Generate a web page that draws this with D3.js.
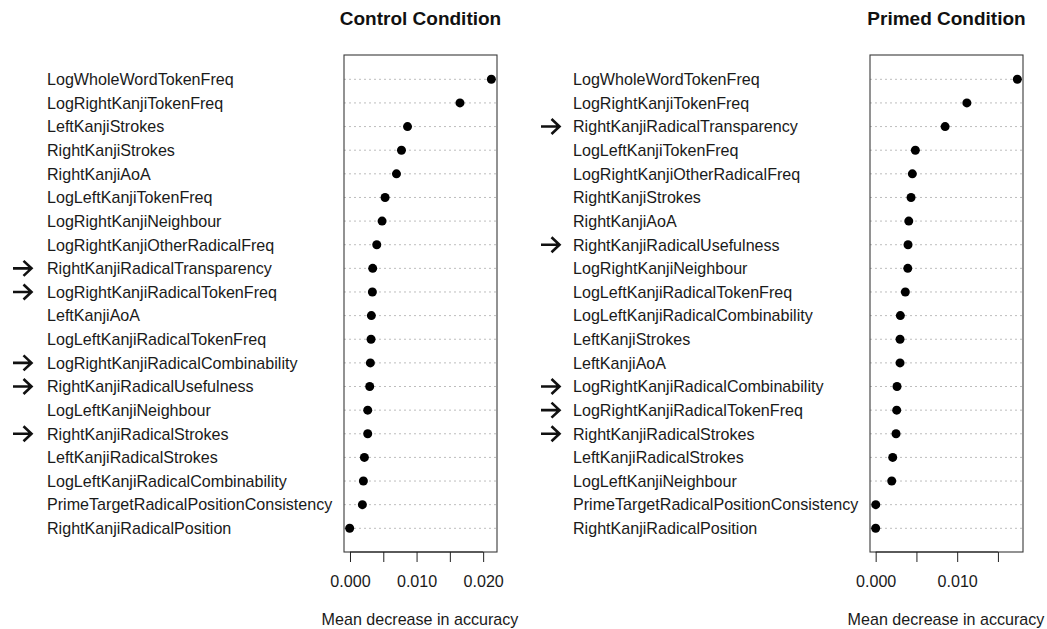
<html>
<head>
  <style>
  body {
    margin: 0;
    background: #fff;
    font-family: "Liberation Sans", Arial, sans-serif;
  }
  .grid line {
    stroke: #bdbdbd;
    stroke-dasharray: 2,3;
  }
  .label {
    font-size: 16.1px;
    fill: #1a1a1a;
  }
  .title {
    font-size: 19px;
    font-weight: bold;
    fill: #111;
  }
  </style>
</head>
<body>
<div id="chart"></div>
<script src="https://d3js.org/d3.v7.min.js"></script>
<script>

// Control condition
var controlNames = [
  "LogWholeWordTokenFreq", "LogRightKanjiTokenFreq", "LeftKanjiStrokes",
  "RightKanjiStrokes", "RightKanjiAoA", "LogLeftKanjiTokenFreq",
  "LogRightKanjiNeighbour", "LogRightKanjiOtherRadicalFreq",
  "RightKanjiRadicalTransparency", "LogRightKanjiRadicalTokenFreq",
  "LeftKanjiAoA", "LogLeftKanjiRadicalTokenFreq",
  "LogRightKanjiRadicalCombinability", "RightKanjiRadicalUsefulness",
  "LogLeftKanjiNeighbour", "RightKanjiRadicalStrokes",
  "LeftKanjiRadicalStrokes", "LogLeftKanjiRadicalCombinability",
  "PrimeTargetRadicalPositionConsistency", "RightKanjiRadicalPosition"
];
var controlValues = [
  0.02123, 0.01652, 0.00864, 0.00773, 0.00698, 0.00527, 0.00482, 0.00402,
  0.00341, 0.00336, 0.00321, 0.00316, 0.00306, 0.00296, 0.00266, 0.00266,
  0.00216, 0.00201, 0.00186, -0.00005
];
var controlArrows = [
  "RightKanjiRadicalTransparency", "LogRightKanjiRadicalTokenFreq",
  "LogRightKanjiRadicalCombinability", "RightKanjiRadicalUsefulness",
  "RightKanjiRadicalStrokes"
];
var controlTicks = [0, 0.005, 0.010, 0.015, 0.020];
var controlTickLabels = ["0.000", "", "0.010", "", "0.020"];

// Primed condition
var primedNames = [
  "LogWholeWordTokenFreq", "LogRightKanjiTokenFreq",
  "RightKanjiRadicalTransparency", "LogLeftKanjiTokenFreq",
  "LogRightKanjiOtherRadicalFreq", "RightKanjiStrokes", "RightKanjiAoA",
  "RightKanjiRadicalUsefulness", "LogRightKanjiNeighbour",
  "LogLeftKanjiRadicalTokenFreq", "LogLeftKanjiRadicalCombinability",
  "LeftKanjiStrokes", "LeftKanjiAoA", "LogRightKanjiRadicalCombinability",
  "LogRightKanjiRadicalTokenFreq", "RightKanjiRadicalStrokes",
  "LeftKanjiRadicalStrokes", "LogLeftKanjiNeighbour",
  "PrimeTargetRadicalPositionConsistency", "RightKanjiRadicalPosition"
];
var primedValues = [
  0.01738, 0.01119, 0.00852, 0.00487, 0.00450, 0.00434, 0.00406, 0.00397,
  0.00394, 0.00364, 0.00303, 0.00299, 0.00299, 0.00262, 0.00258, 0.00250,
  0.00209, 0.00197, 0.00001, 0.0
];
var primedArrows = [
  "RightKanjiRadicalTransparency", "RightKanjiRadicalUsefulness",
  "LogRightKanjiRadicalCombinability", "LogRightKanjiRadicalTokenFreq",
  "RightKanjiRadicalStrokes"
];
var primedTicks = [0, 0.005, 0.010, 0.015];
var primedTickLabels = ["0.000", "", "0.010", ""];

var W = 1047, H = 629;
var svg = d3.select("#chart").append("svg")
  .attr("width", W)
  .attr("height", H);

function dotPanel(opt) {
  var n = opt.names.length;
  var lo = d3.min(opt.values), hi = d3.max(opt.values);
  var pad = (hi - lo) * 0.04;   // like R's default axis extension

  var x = d3.scaleLinear()
    .domain([lo - pad, hi + pad])
    .range([opt.left, opt.right]);

  var y = d3.scalePoint()
    .domain(d3.range(n))
    .range([79.3, 528.3]);

  var g = svg.append("g");

  // dotted guide lines
  g.append("g").attr("class", "grid")
    .selectAll("line")
    .data(opt.names)
    .enter().append("line")
      .attr("x1", opt.left)
      .attr("x2", opt.right)
      .attr("y1", function(d, i) { return y(i); })
      .attr("y2", function(d, i) { return y(i); });

  // box
  g.append("rect")
    .attr("x", opt.left)
    .attr("y", 55)
    .attr("width", opt.right - opt.left)
    .attr("height", 552 - 55)
    .attr("fill", "none")
    .attr("stroke", "#3a3a3a")
    .attr("stroke-width", 1.1);

  // dots
  g.selectAll("circle")
    .data(opt.values)
    .enter().append("circle")
      .attr("cx", function(d) { return x(d); })
      .attr("cy", function(d, i) { return y(i); })
      .attr("r", 4.5)
      .attr("fill", "#000");

  // variable labels
  g.selectAll("text.label")
    .data(opt.names)
    .enter().append("text")
      .attr("class", "label")
      .attr("x", opt.labelX)
      .attr("y", function(d, i) { return y(i); })
      .attr("dy", "0.36em")
      .text(function(d) { return d; });

  // arrows
  var arr = g.selectAll("g.arrow")
    .data(opt.names.map(function(d, i) { return {name: d, i: i}; })
      .filter(function(d) { return opt.arrows.indexOf(d.name) >= 0; }))
    .enter().append("g")
      .attr("class", "arrow")
      .attr("transform", function(d) {
        return "translate(" + opt.arrowX + "," + y(d.i) + ")";
      });
  arr.append("path")
    .attr("d", "M0,0H18.5M10.5,-7.5L18.5,0L10.5,7.5")
    .attr("fill", "none")
    .attr("stroke", "#111")
    .attr("stroke-width", 2.6);

  // x axis
  var ax = d3.axisBottom(x)
    .tickValues(opt.ticks)
    .tickSize(10)
    .tickPadding(14)
    .tickFormat(function(d, i) { return opt.tickLabels[i]; });
  var axg = g.append("g")
    .attr("transform", "translate(0,552)")
    .call(ax);
  axg.select(".domain").remove();
  axg.selectAll(".tick line").attr("stroke", "#222");
  axg.append("line")
    .attr("x1", x(opt.ticks[0]))
    .attr("x2", x(opt.ticks[opt.ticks.length - 1]))
    .attr("stroke", "#222");
  axg.selectAll(".tick text")
    .style("font-family", "'Liberation Sans', Arial, sans-serif")
    .style("font-size", "16.1px")
    .attr("fill", "#1a1a1a");

  // axis title
  g.append("text")
    .attr("class", "label")
    .attr("x", opt.titleX)
    .attr("y", 625)
    .attr("text-anchor", "middle")
    .text("Mean decrease in accuracy");

  // panel title
  g.append("text")
    .attr("class", "title")
    .attr("x", (opt.left + opt.right) / 2)
    .attr("y", 25)
    .attr("text-anchor", "middle")
    .text(opt.title);
}

dotPanel({
  names: controlNames, values: controlValues, arrows: controlArrows,
  ticks: controlTicks, tickLabels: controlTickLabels,
  left: 344, right: 497, labelX: 47, arrowX: 13,
  titleX: 420, title: "Control Condition"
});

dotPanel({
  names: primedNames, values: primedValues, arrows: primedArrows,
  ticks: primedTicks, tickLabels: primedTickLabels,
  left: 870, right: 1023, labelX: 573, arrowX: 541,
  titleX: 946, title: "Primed Condition"
});

</script>
</body>
</html>
